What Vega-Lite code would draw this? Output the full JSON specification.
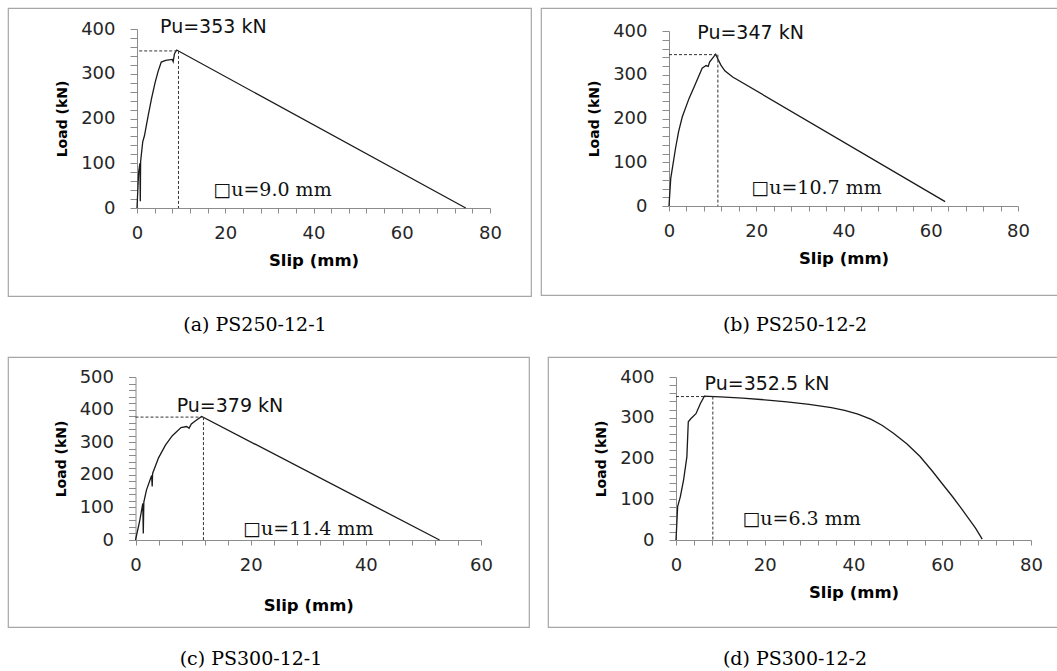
{
"$schema": "https://vega.github.io/schema/vega-lite/v6.json",
"background": "white",
"padding": {"left": 7, "top": 7, "right": 0, "bottom": 0},
"spacing": 20,
"config": {
  "view": {"stroke": "#a6a6a6", "strokeWidth": 1.2},
  "title": {"font": "DejaVu Serif", "fontSize": 19, "fontWeight": "normal", "color": "#000", "baseline": "top"},
  "axis": {"grid": false, "domainColor": "#8c8c8c", "tickColor": "#8c8c8c", "labelFont": "DejaVu Sans", "labelFontSize": 18, "labelColor": "#262626", "titleFont": "DejaVu Sans", "titleFontWeight": "bold", "titleColor": "#000", "labelFlush": false, "labelOverlap": false, "domainWidth": 1, "tickWidth": 1},
  "axisX": {"tickSize": 5, "labelPadding": 11, "titleFontSize": 16.5, "titlePadding": 10},
  "axisY": {"tickSize": 7, "labelPadding": 15, "titleFontSize": 14, "titlePadding": 11}
},
"datasets": {
  "rows": [
    {"panel":"a","kind":"curve","seg":1,"i":0,"slip":0,"load":0},
    {"panel":"a","kind":"curve","seg":1,"i":1,"slip":0.37,"load":80},
    {"panel":"a","kind":"curve","seg":1,"i":2,"slip":0.65,"load":100},
    {"panel":"a","kind":"curve","seg":1,"i":3,"slip":0.75,"load":15},
    {"panel":"a","kind":"curve","seg":1,"i":4,"slip":0.82,"load":104},
    {"panel":"a","kind":"curve","seg":1,"i":5,"slip":1.3,"load":148},
    {"panel":"a","kind":"curve","seg":1,"i":6,"slip":1.7,"load":162},
    {"panel":"a","kind":"curve","seg":1,"i":7,"slip":2.5,"load":205},
    {"panel":"a","kind":"curve","seg":1,"i":8,"slip":3.3,"load":245},
    {"panel":"a","kind":"curve","seg":1,"i":9,"slip":4.1,"load":280},
    {"panel":"a","kind":"curve","seg":1,"i":10,"slip":4.8,"load":306},
    {"panel":"a","kind":"curve","seg":1,"i":11,"slip":5.5,"load":326},
    {"panel":"a","kind":"curve","seg":1,"i":12,"slip":6.5,"load":330},
    {"panel":"a","kind":"curve","seg":1,"i":13,"slip":8.0,"load":332},
    {"panel":"a","kind":"curve","seg":1,"i":14,"slip":8.2,"load":327},
    {"panel":"a","kind":"curve","seg":1,"i":15,"slip":8.5,"load":345},
    {"panel":"a","kind":"curve","seg":1,"i":16,"slip":9.0,"load":353},
    {"panel":"a","kind":"curve","seg":1,"i":17,"slip":74.5,"load":0},
    {"panel":"a","kind":"dash","seg":1,"i":0,"slip":0.5,"load":351},
    {"panel":"a","kind":"dash","seg":1,"i":1,"slip":9.0,"load":351},
    {"panel":"a","kind":"dash","seg":2,"i":0,"slip":9.4,"load":351},
    {"panel":"a","kind":"dash","seg":2,"i":1,"slip":9.4,"load":0},
    {"panel":"a","kind":"pu","slip":17.3,"load":404.5,"label":"Pu=353 kN"},
    {"panel":"a","kind":"du","slip":30.7,"load":40,"label":"□u=9.0 mm"},

    {"panel":"b","kind":"curve","seg":1,"i":0,"slip":0,"load":0},
    {"panel":"b","kind":"curve","seg":1,"i":1,"slip":0.4,"load":63},
    {"panel":"b","kind":"curve","seg":1,"i":2,"slip":1.5,"load":132},
    {"panel":"b","kind":"curve","seg":1,"i":3,"slip":2.2,"load":170},
    {"panel":"b","kind":"curve","seg":1,"i":4,"slip":3.05,"load":204},
    {"panel":"b","kind":"curve","seg":1,"i":5,"slip":4.6,"load":246},
    {"panel":"b","kind":"curve","seg":1,"i":6,"slip":6.1,"load":280},
    {"panel":"b","kind":"curve","seg":1,"i":7,"slip":7.6,"load":315},
    {"panel":"b","kind":"curve","seg":1,"i":8,"slip":8.5,"load":321},
    {"panel":"b","kind":"curve","seg":1,"i":9,"slip":9.0,"load":319},
    {"panel":"b","kind":"curve","seg":1,"i":10,"slip":9.3,"load":329},
    {"panel":"b","kind":"curve","seg":1,"i":11,"slip":10.0,"load":338},
    {"panel":"b","kind":"curve","seg":1,"i":12,"slip":10.7,"load":347},
    {"panel":"b","kind":"curve","seg":1,"i":13,"slip":11.3,"load":334},
    {"panel":"b","kind":"curve","seg":1,"i":14,"slip":11.9,"load":322},
    {"panel":"b","kind":"curve","seg":1,"i":15,"slip":12.8,"load":309},
    {"panel":"b","kind":"curve","seg":1,"i":16,"slip":14.6,"load":295},
    {"panel":"b","kind":"curve","seg":1,"i":17,"slip":63.3,"load":10},
    {"panel":"b","kind":"dash","seg":1,"i":0,"slip":0,"load":346},
    {"panel":"b","kind":"dash","seg":1,"i":1,"slip":10.7,"load":346},
    {"panel":"b","kind":"dash","seg":2,"i":0,"slip":11.2,"load":346},
    {"panel":"b","kind":"dash","seg":2,"i":1,"slip":11.2,"load":0},
    {"panel":"b","kind":"pu","slip":18.7,"load":396,"label":"Pu=347 kN"},
    {"panel":"b","kind":"du","slip":33.8,"load":40.6,"label":"□u=10.7 mm"},

    {"panel":"c","kind":"curve","seg":1,"i":0,"slip":0,"load":0},
    {"panel":"c","kind":"curve","seg":1,"i":1,"slip":0.7,"load":56},
    {"panel":"c","kind":"curve","seg":1,"i":2,"slip":1.27,"load":112},
    {"panel":"c","kind":"curve","seg":1,"i":3,"slip":1.35,"load":20},
    {"panel":"c","kind":"curve","seg":1,"i":4,"slip":1.45,"load":116},
    {"panel":"c","kind":"curve","seg":1,"i":5,"slip":1.9,"load":153},
    {"panel":"c","kind":"curve","seg":1,"i":6,"slip":2.8,"load":198},
    {"panel":"c","kind":"curve","seg":1,"i":7,"slip":2.9,"load":164},
    {"panel":"c","kind":"curve","seg":1,"i":8,"slip":2.97,"load":204},
    {"panel":"c","kind":"curve","seg":1,"i":9,"slip":4.0,"load":252},
    {"panel":"c","kind":"curve","seg":1,"i":10,"slip":5.2,"load":291},
    {"panel":"c","kind":"curve","seg":1,"i":11,"slip":6.4,"load":320},
    {"panel":"c","kind":"curve","seg":1,"i":12,"slip":7.9,"load":345},
    {"panel":"c","kind":"curve","seg":1,"i":13,"slip":8.9,"load":348},
    {"panel":"c","kind":"curve","seg":1,"i":14,"slip":9.3,"load":343},
    {"panel":"c","kind":"curve","seg":1,"i":15,"slip":9.7,"load":356},
    {"panel":"c","kind":"curve","seg":1,"i":16,"slip":10.6,"load":368},
    {"panel":"c","kind":"curve","seg":1,"i":17,"slip":11.5,"load":379},
    {"panel":"c","kind":"curve","seg":1,"i":18,"slip":52.8,"load":0},
    {"panel":"c","kind":"dash","seg":1,"i":0,"slip":0,"load":377},
    {"panel":"c","kind":"dash","seg":1,"i":1,"slip":11.5,"load":377},
    {"panel":"c","kind":"dash","seg":2,"i":0,"slip":11.8,"load":377},
    {"panel":"c","kind":"dash","seg":2,"i":1,"slip":11.8,"load":0},
    {"panel":"c","kind":"pu","slip":16.4,"load":411.7,"label":"Pu=379 kN"},
    {"panel":"c","kind":"du","slip":30,"load":33.7,"label":"□u=11.4 mm"},

    {"panel":"d","kind":"curve","seg":1,"i":0,"slip":0,"load":0},
    {"panel":"d","kind":"curve","seg":1,"i":1,"slip":0.37,"load":82},
    {"panel":"d","kind":"curve","seg":1,"i":2,"slip":0.97,"load":106},
    {"panel":"d","kind":"curve","seg":1,"i":3,"slip":1.7,"load":147},
    {"panel":"d","kind":"curve","seg":1,"i":4,"slip":2.45,"load":204},
    {"panel":"d","kind":"curve","seg":1,"i":5,"slip":2.77,"load":290},
    {"panel":"d","kind":"curve","seg":1,"i":6,"slip":3.38,"load":298},
    {"panel":"d","kind":"curve","seg":1,"i":7,"slip":4.5,"load":310},
    {"panel":"d","kind":"curve","seg":1,"i":8,"slip":5.5,"load":335},
    {"panel":"d","kind":"curve","seg":1,"i":9,"slip":6.4,"load":353},
    {"panel":"d","kind":"curve","seg":1,"i":10,"slip":7.4,"load":352.5},
    {"panel":"d","kind":"curve","seg":1,"i":11,"slip":10,"load":351},
    {"panel":"d","kind":"curve","seg":1,"i":12,"slip":15,"load":348},
    {"panel":"d","kind":"curve","seg":1,"i":13,"slip":20,"load":344},
    {"panel":"d","kind":"curve","seg":1,"i":14,"slip":25,"load":339},
    {"panel":"d","kind":"curve","seg":1,"i":15,"slip":30,"load":333},
    {"panel":"d","kind":"curve","seg":1,"i":16,"slip":35,"load":325},
    {"panel":"d","kind":"curve","seg":1,"i":17,"slip":38,"load":318},
    {"panel":"d","kind":"curve","seg":1,"i":18,"slip":41,"load":309},
    {"panel":"d","kind":"curve","seg":1,"i":19,"slip":44,"load":296},
    {"panel":"d","kind":"curve","seg":1,"i":20,"slip":46.5,"load":281},
    {"panel":"d","kind":"curve","seg":1,"i":21,"slip":49,"load":262},
    {"panel":"d","kind":"curve","seg":1,"i":22,"slip":52,"load":236},
    {"panel":"d","kind":"curve","seg":1,"i":23,"slip":55,"load":205},
    {"panel":"d","kind":"curve","seg":1,"i":24,"slip":57.7,"load":170},
    {"panel":"d","kind":"curve","seg":1,"i":25,"slip":60,"load":138},
    {"panel":"d","kind":"curve","seg":1,"i":26,"slip":62.2,"load":108},
    {"panel":"d","kind":"curve","seg":1,"i":27,"slip":64,"load":82},
    {"panel":"d","kind":"curve","seg":1,"i":28,"slip":66,"load":52},
    {"panel":"d","kind":"curve","seg":1,"i":29,"slip":67.5,"load":29},
    {"panel":"d","kind":"curve","seg":1,"i":30,"slip":69,"load":2},
    {"panel":"d","kind":"dash","seg":1,"i":0,"slip":0,"load":352},
    {"panel":"d","kind":"dash","seg":1,"i":1,"slip":7.0,"load":352},
    {"panel":"d","kind":"dash","seg":2,"i":0,"slip":8.3,"load":352},
    {"panel":"d","kind":"dash","seg":2,"i":1,"slip":8.3,"load":0},
    {"panel":"d","kind":"pu","slip":20.5,"load":382,"label":"Pu=352.5 kN"},
    {"panel":"d","kind":"du","slip":28.3,"load":51,"label":"□u=6.3 mm"}
  ]
},
"vconcat": [
  {"spacing": 8, "hconcat": [
    {"width": 523, "height": 288,
     "title": {"text": "(a) PS250-12-1", "orient": "bottom", "offset": 20, "dx": -14.5},
     "data": {"name": "rows"},
     "transform": [{"filter": "datum.panel === 'a'"}],
     "encoding": {
       "x": {"field": "slip", "type": "quantitative", "scale": {"domain": [0, 80], "range": [129, 482], "nice": false, "zero": false},
             "axis": {"title": "Slip (mm)", "offset": -88, "values": [0,4,8,12,16,20,24,28,32,36,40,44,48,52,56,60,64,68,72,76,80], "labelExpr": "datum.value % 20 === 0 ? datum.label : ''"}},
       "y": {"field": "load", "type": "quantitative", "scale": {"domain": [0, 400], "range": [200, 21], "nice": false, "zero": false},
             "axis": {"title": "Load (kN)", "offset": -129, "values": [0,20,40,60,80,100,120,140,160,180,200,220,240,260,280,300,320,340,360,380,400], "labelExpr": "datum.value % 100 === 0 ? datum.label : ''"}}
     },
     "layer": [
       {"transform": [{"filter": "datum.kind === 'curve'"}], "mark": {"type": "line", "color": "#1a1a1a", "strokeWidth": 1.3}, "encoding": {"order": {"field": "i", "type": "quantitative"}}},
       {"transform": [{"filter": "datum.kind === 'dash'"}], "mark": {"type": "line", "color": "#333333", "strokeWidth": 1, "strokeDash": [3, 2]}, "encoding": {"detail": {"field": "seg"}, "order": {"field": "i", "type": "quantitative"}}},
       {"transform": [{"filter": "datum.kind === 'pu'"}], "mark": {"type": "text", "font": "DejaVu Sans", "fontSize": 19, "color": "#111", "align": "center", "baseline": "middle"}, "encoding": {"text": {"field": "label"}}},
       {"transform": [{"filter": "datum.kind === 'du'"}], "mark": {"type": "text", "font": "DejaVu Serif", "fontSize": 19, "color": "#111", "align": "center", "baseline": "middle"}, "encoding": {"text": {"field": "label"}}}
     ]},
    {"width": 517, "height": 287,
     "title": {"text": "(b) PS250-12-2", "orient": "bottom", "offset": 21, "dx": -4.5},
     "data": {"name": "rows"},
     "transform": [{"filter": "datum.panel === 'b'"}],
     "encoding": {
       "x": {"field": "slip", "type": "quantitative", "scale": {"domain": [0, 80], "range": [128, 477], "nice": false, "zero": false},
             "axis": {"title": "Slip (mm)", "offset": -89, "values": [0,4,8,12,16,20,24,28,32,36,40,44,48,52,56,60,64,68,72,76,80], "labelExpr": "datum.value % 20 === 0 ? datum.label : ''"}},
       "y": {"field": "load", "type": "quantitative", "scale": {"domain": [0, 400], "range": [198, 23], "nice": false, "zero": false},
             "axis": {"title": "Load (kN)", "offset": -128, "values": [0,20,40,60,80,100,120,140,160,180,200,220,240,260,280,300,320,340,360,380,400], "labelExpr": "datum.value % 100 === 0 ? datum.label : ''"}}
     },
     "layer": [
       {"transform": [{"filter": "datum.kind === 'curve'"}], "mark": {"type": "line", "color": "#1a1a1a", "strokeWidth": 1.3}, "encoding": {"order": {"field": "i", "type": "quantitative"}}},
       {"transform": [{"filter": "datum.kind === 'dash'"}], "mark": {"type": "line", "color": "#333333", "strokeWidth": 1, "strokeDash": [3, 2]}, "encoding": {"detail": {"field": "seg"}, "order": {"field": "i", "type": "quantitative"}}},
       {"transform": [{"filter": "datum.kind === 'pu'"}], "mark": {"type": "text", "font": "DejaVu Sans", "fontSize": 19, "color": "#111", "align": "center", "baseline": "middle"}, "encoding": {"text": {"field": "label"}}},
       {"transform": [{"filter": "datum.kind === 'du'"}], "mark": {"type": "text", "font": "DejaVu Serif", "fontSize": 19, "color": "#111", "align": "center", "baseline": "middle"}, "encoding": {"text": {"field": "label"}}}
     ]}
  ]},
  {"spacing": 17, "hconcat": [
    {"width": 521, "height": 270,
     "title": {"text": "(c) PS300-12-1", "orient": "bottom", "offset": 23, "dx": -17.5},
     "data": {"name": "rows"},
     "transform": [{"filter": "datum.panel === 'c'"}],
     "encoding": {
       "x": {"field": "slip", "type": "quantitative", "scale": {"domain": [0, 60], "range": [127.5, 473], "nice": false, "zero": false},
             "axis": {"title": "Slip (mm)", "offset": -87, "titlePadding": 23, "values": [0,4,8,12,16,20,24,28,32,36,40,44,48,52,56,60], "labelExpr": "datum.value % 20 === 0 ? datum.label : ''"}},
       "y": {"field": "load", "type": "quantitative", "scale": {"domain": [0, 500], "range": [183, 20], "nice": false, "zero": false},
             "axis": {"title": "Load (kN)", "offset": -127.5, "values": [0,20,40,60,80,100,120,140,160,180,200,220,240,260,280,300,320,340,360,380,400,420,440,460,480,500], "labelExpr": "datum.value % 100 === 0 ? datum.label : ''"}}
     },
     "layer": [
       {"transform": [{"filter": "datum.kind === 'curve'"}], "mark": {"type": "line", "color": "#1a1a1a", "strokeWidth": 1.3}, "encoding": {"order": {"field": "i", "type": "quantitative"}}},
       {"transform": [{"filter": "datum.kind === 'dash'"}], "mark": {"type": "line", "color": "#333333", "strokeWidth": 1, "strokeDash": [3, 2]}, "encoding": {"detail": {"field": "seg"}, "order": {"field": "i", "type": "quantitative"}}},
       {"transform": [{"filter": "datum.kind === 'pu'"}], "mark": {"type": "text", "font": "DejaVu Sans", "fontSize": 19, "color": "#111", "align": "center", "baseline": "middle"}, "encoding": {"text": {"field": "label"}}},
       {"transform": [{"filter": "datum.kind === 'du'"}], "mark": {"type": "text", "font": "DejaVu Serif", "fontSize": 19, "color": "#111", "align": "center", "baseline": "middle"}, "encoding": {"text": {"field": "label"}}}
     ]},
    {"width": 510, "height": 270,
     "title": {"text": "(d) PS300-12-2", "orient": "bottom", "offset": 23, "dx": -8},
     "data": {"name": "rows"},
     "transform": [{"filter": "datum.panel === 'd'"}],
     "encoding": {
       "x": {"field": "slip", "type": "quantitative", "scale": {"domain": [0, 80], "range": [128, 483], "nice": false, "zero": false},
             "axis": {"title": "Slip (mm)", "offset": -87, "values": [0,4,8,12,16,20,24,28,32,36,40,44,48,52,56,60,64,68,72,76,80], "labelExpr": "datum.value % 20 === 0 ? datum.label : ''"}},
       "y": {"field": "load", "type": "quantitative", "scale": {"domain": [0, 400], "range": [183, 20], "nice": false, "zero": false},
             "axis": {"title": "Load (kN)", "offset": -128, "values": [0,20,40,60,80,100,120,140,160,180,200,220,240,260,280,300,320,340,360,380,400], "labelExpr": "datum.value % 100 === 0 ? datum.label : ''"}}
     },
     "layer": [
       {"transform": [{"filter": "datum.kind === 'curve'"}], "mark": {"type": "line", "color": "#1a1a1a", "strokeWidth": 1.3}, "encoding": {"order": {"field": "i", "type": "quantitative"}}},
       {"transform": [{"filter": "datum.kind === 'dash'"}], "mark": {"type": "line", "color": "#333333", "strokeWidth": 1, "strokeDash": [3, 2]}, "encoding": {"detail": {"field": "seg"}, "order": {"field": "i", "type": "quantitative"}}},
       {"transform": [{"filter": "datum.kind === 'pu'"}], "mark": {"type": "text", "font": "DejaVu Sans", "fontSize": 19, "color": "#111", "align": "center", "baseline": "middle"}, "encoding": {"text": {"field": "label"}}},
       {"transform": [{"filter": "datum.kind === 'du'"}], "mark": {"type": "text", "font": "DejaVu Serif", "fontSize": 19, "color": "#111", "align": "center", "baseline": "middle"}, "encoding": {"text": {"field": "label"}}}
     ]}
  ]}
]
}
